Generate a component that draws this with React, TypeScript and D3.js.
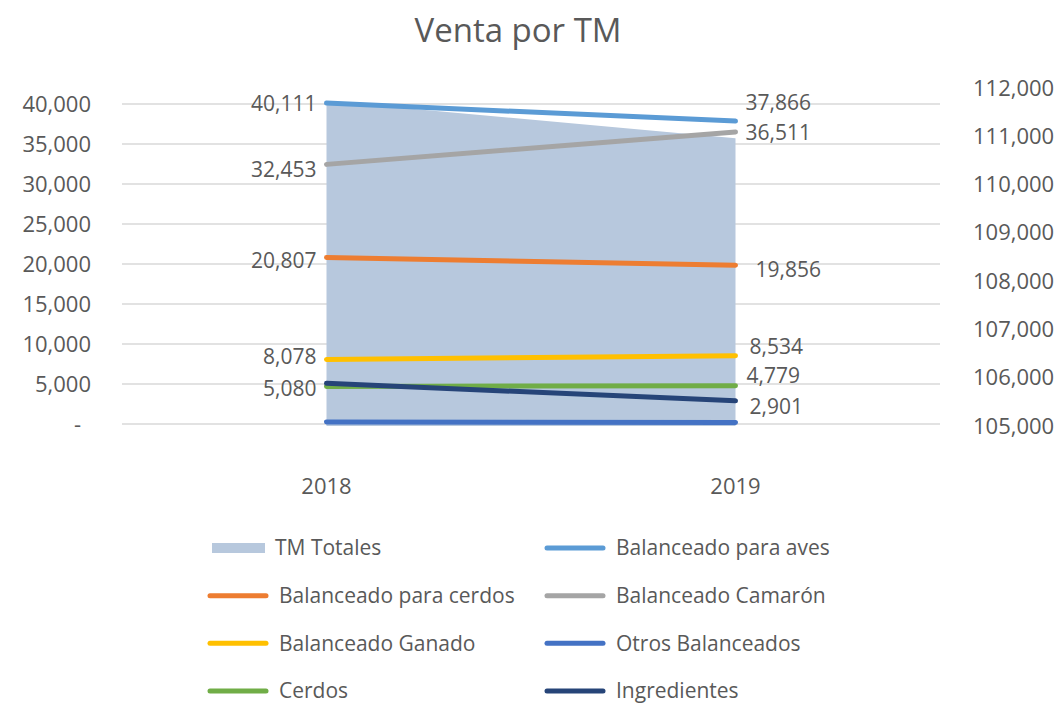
import React, { useEffect, useRef } from "react";
import { select, scaleLinear, scalePoint, scaleBand, axisLeft, axisRight, axisBottom, line, area, format, range } from "d3";

const years = ["2018", "2019"];
const tmTotales = [111730, 110960];
const avesValues = [40111, 37866];
const cerdosBalValues = [20807, 19856];
const camaronValues = [32453, 36511];
const ganadoValues = [8078, 8534];
const otrosValues = [250, 180];
const cerdosValues = [4700, 4779];
const ingredientesValues = [5080, 2901];
const leftTicks = range(0, 40001, 5000);
const rightTicks = range(105000, 112001, 1000);

const series = [
  { name: "Balanceado para aves", values: avesValues, color: "#5b9bd5", labels: [true, true] },
  { name: "Balanceado para cerdos", values: cerdosBalValues, color: "#ed7d31", labels: [true, true] },
  { name: "Balanceado Camarón", values: camaronValues, color: "#a5a5a5", labels: [true, true] },
  { name: "Balanceado Ganado", values: ganadoValues, color: "#ffc000", labels: [true, true] },
  { name: "Otros Balanceados", values: otrosValues, color: "#4472c4", labels: [false, false] },
  { name: "Cerdos", values: cerdosValues, color: "#70ad47", labels: [false, true] },
  { name: "Ingredientes", values: ingredientesValues, color: "#264478", labels: [true, true] },
];

// small hand nudges so labels sit like the original (dx, dy per year)
const labelNudge = {
  "Balanceado para aves": [[0, 1], [0, -18]],
  "Balanceado para cerdos": [[0, 3], [10, 4]],
  "Balanceado Camarón": [[0, 5], [0, 1]],
  "Balanceado Ganado": [[0, -3], [4, -9]],
  "Cerdos": [[0, 0], [1, -10]],
  "Ingredientes": [[0, 5], [4, 6]],
};

const legendOrder = [
  "TM Totales", "Balanceado para aves",
  "Balanceado para cerdos", "Balanceado Camarón",
  "Balanceado Ganado", "Otros Balanceados",
  "Cerdos", "Ingredientes",
];

const W = 1063;
const H = 707;
const FONT = "'Open Sans', 'Noto Sans', sans-serif";
const TEXT = "#595959";

const App = () => {
  const svgRef = useRef(null);

  useEffect(() => {
    const svg = select(svgRef.current);
    svg.selectAll("*").remove();

    const left = 122, right = 940, top = 104, bottom = 424;
    const x = scaleBand().domain(years).range([left, right]);
    const xc = (d) => x(d) + x.bandwidth() / 2;
    const y = scaleLinear().domain([0, 40000]).range([bottom, top]);
    const y2 = scaleLinear().domain([105000, 112000]).range([426, 88]);

    // title
    svg.append("text")
      .attr("x", 518).attr("y", 42)
      .attr("text-anchor", "middle")
      .attr("font-size", 33)
      .attr("fill", TEXT)
      .text("Venta por TM");

    // gridlines
    svg.append("g").selectAll("line")
      .data(leftTicks)
      .join("line")
      .attr("x1", left).attr("x2", right)
      .attr("y1", (d) => y(d)).attr("y2", (d) => y(d))
      .attr("stroke", "#d9d9d9").attr("stroke-width", 1.5);

    // left axis
    const fmt = format(",");
    const gl = svg.append("g")
      .attr("transform", `translate(${ left - 22 }, 0)`)
      .call(axisLeft(y).tickValues(leftTicks).tickSize(0).tickPadding(9)
        .tickFormat((d) => d === 0 ? "-" : fmt(d)));
    gl.select(".domain").remove();
    gl.selectAll("text").filter((d) => d === 0).attr("dx", -10);

    // right axis
    const gr = svg.append("g")
      .attr("transform", `translate(964, 0)`)
      .call(axisRight(y2).tickValues(rightTicks).tickSize(0).tickPadding(9).tickFormat(fmt));
    gr.select(".domain").remove();

    // bottom categories
    const gb = svg.append("g")
      .attr("transform", `translate(0, 478)`)
      .call(axisBottom(x).tickSize(0).tickPadding(0));
    gb.select(".domain").remove();
    gb.selectAll("text").attr("dy", "0.71em");

    svg.selectAll(".tick text")
      .attr("font-size", 22)
      .attr("font-family", FONT)
      .attr("fill", TEXT);

    // TM Totales area (secondary axis)
    const areaGen = area()
      .x((d, i) => xc(years[i]))
      .y0(y2(105000))
      .y1((d) => y2(d));
    svg.append("path")
      .datum(tmTotales)
      .attr("d", areaGen)
      .attr("fill", "#b7c8dd");

    // lines
    const lineGen = line()
      .x((d, i) => xc(years[i]))
      .y((d) => y(d));
    svg.append("g").selectAll("path")
      .data(series)
      .join("path")
      .attr("d", (s) => lineGen(s.values))
      .attr("fill", "none")
      .attr("stroke", (s) => s.color)
      .attr("stroke-width", 5)
      .attr("stroke-linecap", "round");

    // data labels
    const labels = [];
    series.forEach((s) => {
      s.values.forEach((v, i) => {
        if (!s.labels[i]) return;
        const n = labelNudge[s.name][i];
        labels.push({ v, i, dx: n[0], dy: n[1] });
      });
    });
    svg.append("g").selectAll("text")
      .data(labels)
      .join("text")
      .attr("x", (d) => xc(years[d.i]) + (d.i === 0 ? -10 : 10) + d.dx)
      .attr("y", (d) => y(d.v) + d.dy)
      .attr("dy", "0.35em")
      .attr("text-anchor", (d) => d.i === 0 ? "end" : "start")
      .attr("font-size", 21)
      .attr("fill", TEXT)
      .text((d) => fmt(d.v));

    // legend
    const colX = scalePoint().domain(["0", "1"]).range([208, 545]);
    const rowY = scalePoint().domain(["0", "1", "2", "3"]).range([548, 691]);
    const lg = svg.append("g");
    legendOrder.forEach((name, k) => {
      const gx = colX(String(k % 2));
      const gy = rowY(String(Math.floor(k / 2)));
      const g = lg.append("g").attr("transform", `translate(${ gx }, ${ gy })`);
      if (name === "TM Totales") {
        g.append("rect")
          .attr("x", 4).attr("y", -5).attr("width", 53).attr("height", 10)
          .attr("fill", "#b7c8dd");
        g.append("text")
          .attr("x", 67).attr("dy", "0.35em")
          .attr("font-size", 21).attr("fill", TEXT)
          .text(name);
      } else {
        const s = series.find((q) => q.name === name);
        g.append("line")
          .attr("x1", 2).attr("x2", 58)
          .attr("stroke", s.color).attr("stroke-width", 5)
          .attr("stroke-linecap", "round");
        g.append("text")
          .attr("x", 71).attr("dy", "0.35em")
          .attr("font-size", 21).attr("fill", TEXT)
          .text(name);
      }
    });
  }, []);

  return (
    <div style={ { position: "fixed", left: 0, top: 0, width: W, height: H, background: "#fff" } }>
      <svg
        ref={ svgRef }
        width={ W }
        height={ H }
        style={ { display: "block", fontFamily: FONT } }
      />
    </div>
  );
};

export default App;
